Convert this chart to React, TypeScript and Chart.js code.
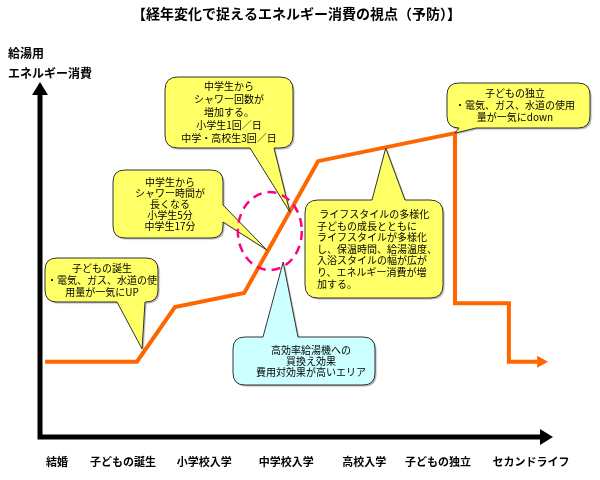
import React, { useEffect, useRef } from "react";
import { Chart, registerables } from "chart.js";

Chart.register(...registerables);

// ---------- data ----------
const TITLE = "【経年変化で捉えるエネルギー消費の視点（予防）】";
const Y_LABEL = ["給湯用", "エネルギー消費"];
const STAGES = ["結婚", "子どもの誕生", "小学校入学", "中学校入学", "高校入学", "子どもの独立", "セカンドライフ"];
const STAGE_POS = [3.3, 16.2, 32.0, 48.0, 63.2, 77.6, 95.7];

// energy-consumption path (x: life stage units 0-100, y: energy level 0-100)
const LINE_X = [1, 18.9, 26.3, 39.8, 54.2, 80.9, 80.9, 91.4, 91.4, 96.9];
const LINE_Y = [21.2, 21.2, 36.6, 40.6, 77.7, 85.6, 37.7, 37.7, 21.2, 21.2];

// callout texts and the data point each one points at
const CALLOUT_TEXT = [
  ["子どもの誕生", "・電気、ガス、水道の使", "用量が一気にUP"],
  ["中学生から", "シャワー時間が", "長くなる", "小学生5分", "中学生17分"],
  ["中学生から", "シャワー回数が", "増加する。", "小学生1回／日", "中学・高校生3回／日"],
  [" ライフスタイルの多様化", "子どもの成長とともに", "ライフスタイルが多様化", "し、保温時間、給湯温度、", "入浴スタイルの幅が広が", "り、エネルギー消費が増", "加する。"],
  ["高効率給湯機への", "買換え効果", "費用対効果が高いエリア"],
  ["子どもの独立", "・電気、ガス、水道の使用", "量が一気にdown"],
];
const CALLOUT_TIP_X = [19.9, 44.2, 48.7, 67.4, 47.4, 80.9];
const CALLOUT_TIP_Y = [24.8, 52.7, 63.4, 81.4, 49.3, 85.6];

// highlighted area (ellipse centre in data units)
const FOCUS_X = 44.8;
const FOCUS_Y = 58.0;

// ---------- styles / layout ----------
const FONT = '"Noto Sans CJK JP", "Noto Sans", sans-serif';
const ORANGE = "#FF6600";
const YELLOW = "#FFFF66";
const CYAN = "#CCFFFF";
const PINK = "#FF0080";

type Box = {
  x: number; y: number; w: number; h: number; r: number;
  side: "top" | "bottom" | "left" | "right"; base: [number, number];
  fill: string; align: "center" | "left"; tx: number; lh: number;
};
const CALLOUT_LAYOUT: Box[] = [
  { x: 45, y: 258, w: 113, h: 44, r: 12, side: "bottom", base: [117, 145], fill: YELLOW, align: "center", tx: 102, lh: 12 },
  { x: 113, y: 170, w: 110, h: 68, r: 12, side: "right", base: [205, 222], fill: YELLOW, align: "center", tx: 170, lh: 11 },
  { x: 165, y: 77, w: 128, h: 71, r: 13, side: "bottom", base: [250, 274], fill: YELLOW, align: "center", tx: 229, lh: 13 },
  { x: 305, y: 200, w: 138, h: 98, r: 13, side: "top", base: [372, 405], fill: YELLOW, align: "left", tx: 317, lh: 11.6 },
  { x: 233, y: 337, w: 142, h: 48, r: 12, side: "top", base: [263, 298], fill: CYAN, align: "center", tx: 311, lh: 11 },
  { x: 447, y: 83, w: 143, h: 45, r: 12, side: "bottom", base: [459, 476], fill: YELLOW, align: "center", tx: 515, lh: 12 },
];

function bubblePath(ctx: CanvasRenderingContext2D, b: Box, tx: number, ty: number) {
  const { x, y, w, h, r, side, base } = b;
  ctx.beginPath();
  ctx.moveTo(x + r, y);
  if (side === "top") { ctx.lineTo(base[0], y); ctx.lineTo(tx, ty); ctx.lineTo(base[1], y); }
  ctx.lineTo(x + w - r, y);
  ctx.quadraticCurveTo(x + w, y, x + w, y + r);
  if (side === "right") { ctx.lineTo(x + w, base[0]); ctx.lineTo(tx, ty); ctx.lineTo(x + w, base[1]); }
  ctx.lineTo(x + w, y + h - r);
  ctx.quadraticCurveTo(x + w, y + h, x + w - r, y + h);
  if (side === "bottom") { ctx.lineTo(base[1], y + h); ctx.lineTo(tx, ty); ctx.lineTo(base[0], y + h); }
  ctx.lineTo(x + r, y + h);
  ctx.quadraticCurveTo(x, y + h, x, y + h - r);
  if (side === "left") { ctx.lineTo(x, base[1]); ctx.lineTo(tx, ty); ctx.lineTo(x, base[0]); }
  ctx.lineTo(x, y + r);
  ctx.quadraticCurveTo(x, y, x + r, y);
  ctx.closePath();
}

const diagramPlugin = {
  id: "diagram",
  beforeDatasetsDraw(chart: any) {
    const ctx: CanvasRenderingContext2D = chart.ctx;
    const xs = chart.scales.x;
    const ys = chart.scales.y;
    const x0 = xs.getPixelForValue(0);
    const y0 = ys.getPixelForValue(0);
    const yTop = ys.getPixelForValue(100);
    const xRight = xs.getPixelForValue(100);
    ctx.save();
    ctx.strokeStyle = "#000";
    ctx.fillStyle = "#000";
    ctx.lineWidth = 5;
    ctx.lineJoin = "miter";
    ctx.beginPath();
    ctx.moveTo(x0, yTop + 10);
    ctx.lineTo(x0, y0);
    ctx.lineTo(xRight - 10, y0);
    ctx.stroke();
    ctx.beginPath();
    ctx.moveTo(x0, yTop);
    ctx.lineTo(x0 - 8, yTop + 13);
    ctx.lineTo(x0 + 8, yTop + 13);
    ctx.closePath();
    ctx.fill();
    ctx.beginPath();
    ctx.moveTo(xRight, y0);
    ctx.lineTo(xRight - 13, y0 - 8);
    ctx.lineTo(xRight - 13, y0 + 8);
    ctx.closePath();
    ctx.fill();
    // y axis caption
    ctx.font = `bold 12px ${FONT}`;
    ctx.textAlign = "left";
    ctx.textBaseline = "middle";
    ctx.fillText(Y_LABEL[0], 8, yTop - 29);
    ctx.fillText(Y_LABEL[1], 8, yTop - 9);
    ctx.restore();
  },
  afterDatasetsDraw(chart: any) {
    const ctx: CanvasRenderingContext2D = chart.ctx;
    const xs = chart.scales.x;
    const ys = chart.scales.y;
    ctx.save();
    // arrow head at end of the line
    const pts = chart.getDatasetMeta(0).data;
    const a = pts[pts.length - 2];
    const b = pts[pts.length - 1];
    const ang = Math.atan2(b.y - a.y, b.x - a.x);
    const L = 11, H = 6;
    ctx.fillStyle = ORANGE;
    ctx.beginPath();
    ctx.moveTo(b.x + L * Math.cos(ang), b.y + L * Math.sin(ang));
    ctx.lineTo(b.x - H * Math.sin(ang), b.y + H * Math.cos(ang));
    ctx.lineTo(b.x + H * Math.sin(ang), b.y - H * Math.cos(ang));
    ctx.closePath();
    ctx.fill();

    // callouts
    CALLOUT_TEXT.forEach((lines, i) => {
      const box = CALLOUT_LAYOUT[i];
      const tx = xs.getPixelForValue(CALLOUT_TIP_X[i]);
      const ty = ys.getPixelForValue(CALLOUT_TIP_Y[i]);
      ctx.save();
      ctx.shadowColor = "rgba(0,0,0,0.3)";
      ctx.shadowOffsetX = 1.5;
      ctx.shadowOffsetY = 1.5;
      ctx.shadowBlur = 1;
      bubblePath(ctx, box, tx, ty);
      ctx.fillStyle = box.fill;
      ctx.fill();
      ctx.restore();
      bubblePath(ctx, box, tx, ty);
      ctx.strokeStyle = "#333";
      ctx.lineWidth = 1;
      ctx.stroke();
      ctx.fillStyle = "#000";
      ctx.font = `10px ${FONT}`;
      ctx.textAlign = box.align;
      ctx.textBaseline = "middle";
      const cy = box.y + box.h / 2;
      const start = cy - ((lines.length - 1) * box.lh) / 2;
      lines.forEach((t, j) => ctx.fillText(t, box.tx, start + j * box.lh));
    });

    // dashed focus ellipse
    ctx.strokeStyle = PINK;
    ctx.lineWidth = 2.5;
    ctx.setLineDash([9, 6]);
    ctx.beginPath();
    ctx.ellipse(xs.getPixelForValue(FOCUS_X), ys.getPixelForValue(FOCUS_Y), 32, 39, 0, 0, Math.PI * 2);
    ctx.stroke();
    ctx.restore();
  },
};

export default function App() {
  const ref = useRef<HTMLCanvasElement>(null);
  useEffect(() => {
    document.body.style.margin = "0";
    const canvas = ref.current!;
    const chart = new Chart(canvas, {
      type: "scatter",
      data: {
        datasets: [
          {
            data: LINE_X.map((x, i) => ({ x, y: LINE_Y[i] })),
            showLine: true,
            borderColor: ORANGE,
            borderWidth: 4,
            pointRadius: 0,
            tension: 0,
            borderJoinStyle: "miter",
            borderCapStyle: "butt",
          } as any,
        ],
      },
      options: {
        animation: false,
        responsive: false,
        events: [],
        layout: { padding: { left: 40, right: 47, top: 0, bottom: 12 } },
        plugins: {
          legend: { display: false },
          tooltip: { enabled: false },
          title: {
            display: true,
            text: TITLE,
            color: "#000",
            font: { family: FONT, size: 14, weight: "bold" },
            padding: { top: 5.6, bottom: 59.6 },
          },
        },
        scales: {
          x: {
            type: "linear",
            min: 0,
            max: 100,
            grid: { display: false, drawTicks: false },
            border: { display: false },
            afterBuildTicks: (s: any) => {
              s.ticks = STAGE_POS.map((v) => ({ value: v }));
            },
            afterFit: (s: any) => {
              s.height = 31;
            },
            ticks: {
              padding: 18,
              autoSkip: false,
              maxRotation: 0,
              color: "#000",
              font: { family: FONT, size: 11, weight: "bold" },
              callback: (_v: any, i: number) => STAGES[i],
            },
          },
          y: { type: "linear", min: 0, max: 100, display: false },
        },
      },
      plugins: [diagramPlugin],
    } as any);
    return () => chart.destroy();
  }, []);
  return (
    <div style={{ width: 600, height: 480 }}>
      <canvas ref={ref} width={600} height={480} />
    </div>
  );
}
